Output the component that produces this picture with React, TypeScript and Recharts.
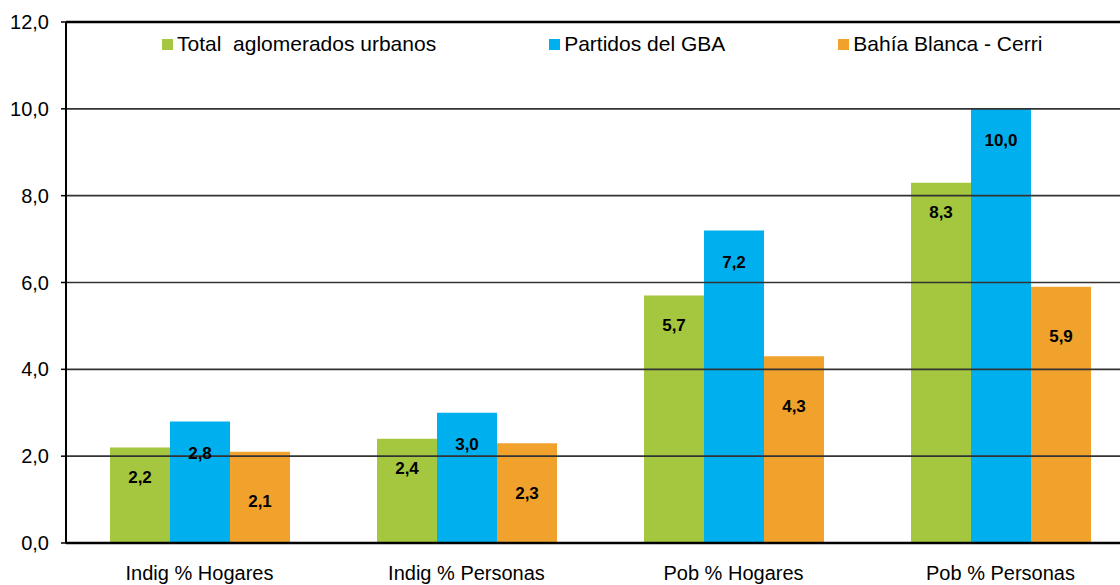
import { Bar, BarChart, ReferenceLine, XAxis, YAxis } from "recharts";

const categories = ["Indig % Hogares", "Indig % Personas", "Pob % Hogares", "Pob % Personas"];
const totalAglomerados = [2.2, 2.4, 5.7, 8.3];
const partidosGba = [2.8, 3.0, 7.2, 10.0];
const bahiaBlanca = [2.1, 2.3, 4.3, 5.9];
const yTicks = [0, 2, 4, 6, 8, 10, 12];

const series = [
  { key: "total", name: "Total  aglomerados urbanos", color: "#A5C63F", labelOffset: 30 },
  { key: "gba", name: "Partidos del GBA", color: "#00B0EE", labelOffset: 32 },
  { key: "bahia", name: "Bahía Blanca - Cerri", color: "#F0A22D", labelOffset: 50 },
];

const data = categories.map((cat, i) => ({
  cat,
  total: totalAglomerados[i],
  gba: partidosGba[i],
  bahia: bahiaBlanca[i],
}));

const FONT = "'Liberation Sans', Arial, sans-serif";

function fmt(v: number) {
  return v.toFixed(1).replace(".", ",");
}

function makeLabel(offset: number) {
  return (props: any) => {
    const { x, y, width, value } = props;
    return (
      <text
        x={Number(x) + Number(width) / 2}
        y={Number(y) + offset}
        textAnchor="middle"
        dominantBaseline="central"
        fontFamily={FONT}
        fontSize={17}
        fontWeight="bold"
        fill="#000"
      >
        {fmt(Number(value))}
      </text>
    );
  };
}

function LegendBox() {
  return (
    <div
      style={{
        position: "absolute",
        top: 32,
        left: 162,
        display: "flex",
        gap: 113,
        fontFamily: FONT,
        fontSize: 21,
        lineHeight: "24px",
        color: "#000",
        whiteSpace: "pre",
      }}
    >
      {series.map((s) => (
        <div key={s.key} style={{ display: "flex", alignItems: "center" }}>
          <span
            style={{ width: 11, height: 11, background: s.color, marginRight: 4, display: "inline-block" }}
          />
          <span>{s.name}</span>
        </div>
      ))}
    </div>
  );
}

export default function App() {
  return (
    <div
      style={{
        position: "absolute",
        top: 0,
        left: 0,
        width: 1120,
        height: 585,
        overflow: "hidden",
        background: "#fff",
      }}
    >
      <BarChart
        width={1140}
        height={585}
        data={data}
        margin={{ top: 22, right: 6, bottom: 0, left: 0 }}
        barGap={0}
      >
        <XAxis
          dataKey="cat"
          tickLine={false}
          axisLine={{ stroke: "#000", strokeWidth: 2.5 }}
          tick={{ fontSize: 20, fill: "#000", fontFamily: FONT }}
          tickMargin={17}
          height={42}
          interval={0}
        />
        <YAxis
          domain={[0, 12]}
          ticks={yTicks}
          width={66}
          tickFormatter={fmt}
          axisLine={{ stroke: "#000", strokeWidth: 2 }}
          tickLine={{ stroke: "#000", strokeWidth: 1.5 }}
          tickSize={5}
          tickMargin={12}
          tick={{ fontSize: 20, fill: "#000", fontFamily: FONT }}
          allowDataOverflow
        />
        {series.map((s) => (
          <Bar
            key={s.key}
            dataKey={s.key}
            name={s.name}
            fill={s.color}
            barSize={60}
            isAnimationActive={false}
            label={makeLabel(s.labelOffset)}
          />
        ))}
        {yTicks
          .filter((t) => t > 0 && t < 12)
          .map((t) => (
            <ReferenceLine key={t} y={t} stroke="#333" strokeWidth={1.6} />
          ))}
        <ReferenceLine y={12} stroke="#000" strokeWidth={2.5} />
      </BarChart>
      <LegendBox />
    </div>
  );
}
